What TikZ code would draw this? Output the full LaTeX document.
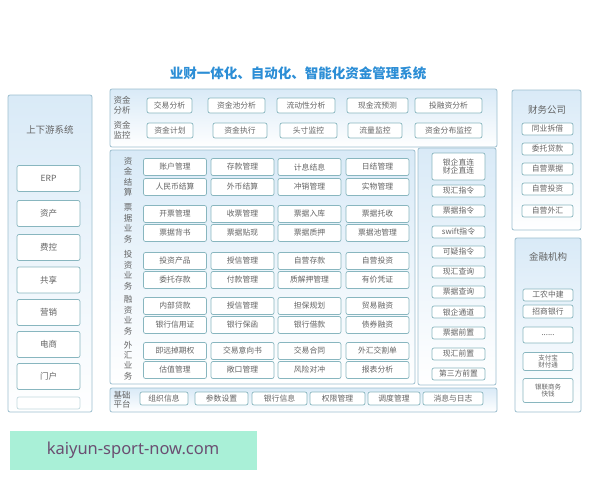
\documentclass[tikz,border=0pt]{standalone}
\usepackage{fontspec}
\setmainfont{Noto Sans CJK SC}
\newfontfamily\bannerfont{Noto Sans}
\definecolor{contc}{HTML}{9DBFCF}
\definecolor{boxc}{HTML}{88B6BF}
\definecolor{contt}{HTML}{D9EAF7}
\definecolor{txtc}{HTML}{646464}
\definecolor{titc}{HTML}{2C8ED6}
\definecolor{bannerc}{HTML}{A9F0D7}
\definecolor{bannert}{HTML}{6B4E71}
\begin{document}
\begin{tikzpicture}[x=1pt,y=-1pt,
  cont/.style={draw=contc, line width=0.8pt, rounded corners=2pt, top color=contt, bottom color=white, inner sep=0pt},
  ib/.style={draw=boxc, fill=white, rounded corners=2pt, line width=0.7pt, inner sep=0pt, font=\fontsize{7.8}{8.8}\selectfont, text=txtc, align=center},
  lbl/.style={font=\fontsize{8.5}{9.5}\selectfont, text=txtc, align=center, inner sep=0pt},
  vlbl/.style={font=\fontsize{8.5}{10.5}\selectfont, text=txtc, align=center, inner sep=0pt},
  ttl/.style={font=\fontsize{9.5}{11}\selectfont, text=txtc, inner sep=0pt}]
\useasboundingbox (0,0) rectangle (600,480);
\fill[white] (0,0) rectangle (600,480);

% title
\node[font=\fontsize{13.5}{15}\selectfont\bfseries, text=titc] (title) at (298,73) {业财一体化、自动化、智能化资金管理系统};

% containers
\node[cont, minimum width=387, minimum height=58] (topc) at (303.5,118) {};
\node[cont, minimum width=84, minimum height=317] (leftc) at (50,253.5) {};
\node[cont, minimum width=305, minimum height=234] (midc) at (262.5,267) {};
\node[cont, minimum width=78, minimum height=237] (instc) at (457,266.5) {};
\node[cont, minimum width=387, minimum height=24] (basec) at (303.5,400) {};
\node[cont, minimum width=69, minimum height=140] (fcc) at (546.5,160) {};
\node[cont, minimum width=66, minimum height=174] (fic) at (548,325) {};

% top block
\node[lbl] (l1) at (122,105) {资金\\分析};
\node[lbl] (l2) at (122,130) {资金\\监控};
\node[ib, minimum width=45, minimum height=15] (a1) at (169.5,105.5) {交易分析};
\node[ib, minimum width=57, minimum height=15] (a2) at (236.5,105.5) {资金池分析};
\node[ib, minimum width=58, minimum height=15] (a3) at (306,105.5) {流动性分析};
\node[ib, minimum width=61, minimum height=15] (a4) at (377.5,105.5) {现金流预测};
\node[ib, minimum width=67, minimum height=15] (a5) at (448.5,105.5) {投融资分析};
\node[ib, minimum width=46, minimum height=15] (b1) at (170,130.5) {资金计划};
\node[ib, minimum width=54, minimum height=15] (b2) at (240,130.5) {资金执行};
\node[ib, minimum width=57, minimum height=15] (b3) at (308.5,130.5) {头寸监控};
\node[ib, minimum width=54, minimum height=15] (b4) at (375,130.5) {流量监控};
\node[ib, minimum width=67, minimum height=15] (b5) at (448.5,130.5) {资金分布监控};

% left block
\node[ttl] (lt) at (50,130) {上下游系统};
\node[ib, minimum width=63, minimum height=26, font=\fontsize{8.5}{9.5}\selectfont] (u1) at (48.5,178.5) {ERP};
\node[ib, minimum width=63, minimum height=26, font=\fontsize{8.5}{9.5}\selectfont] (u2) at (48.5,213.5) {资产};
\node[ib, minimum width=63, minimum height=26, font=\fontsize{8.5}{9.5}\selectfont] (u3) at (48.5,247.5) {费控};
\node[ib, minimum width=63, minimum height=26, font=\fontsize{8.5}{9.5}\selectfont] (u4) at (48.5,280) {共享};
\node[ib, minimum width=63, minimum height=26, font=\fontsize{8.5}{9.5}\selectfont] (u5) at (48.5,312.5) {营销};
\node[ib, minimum width=63, minimum height=26, font=\fontsize{8.5}{9.5}\selectfont] (u6) at (48.5,344.5) {电商};
\node[ib, minimum width=63, minimum height=26, font=\fontsize{8.5}{9.5}\selectfont] (u7) at (48.5,376.5) {门户};
\node[ib, minimum width=63, minimum height=12, draw=boxc!50] (u8) at (48.5,403) {};

% middle block labels
\node[vlbl] (m1) at (128,177) {资\\金\\结\\算};
\node[vlbl] (m2) at (128,223.5) {票\\据\\业\\务};
\node[vlbl] (m3) at (128,270.5) {投\\资\\业\\务};
\node[vlbl] (m4) at (128,315.5) {融\\资\\业\\务};
\node[vlbl] (m5) at (128,360.5) {外\\汇\\业\\务};

\foreach \y/\ta/\tb/\tc/\td [count=\i] in {
  167/账户管理/存款管理/计息结息/日结管理,
  187/人民币结算/外币结算/冲销管理/实物管理,
  214/开票管理/收票管理/票据入库/票据托收,
  233/票据背书/票据贴现/票据质押/票据池管理,
  261/投资产品/授信管理/自营存款/自营投资,
  280/委托存款/付款管理/质解押管理/有价凭证,
  306/内部贷款/授信管理/担保规划/贸易融资,
  325/银行信用证/银行保函/银行借款/债券融资,
  351/即远掉期权/交易意向书/交易合同/外汇交割单,
  370/估值管理/敞口管理/风险对冲/报表分析}{
  \node[ib, minimum width=63, minimum height=17] (r\i c1) at (175,\y) {\ta};
  \node[ib, minimum width=63, minimum height=17] (r\i c2) at (242.5,\y) {\tb};
  \node[ib, minimum width=63, minimum height=17] (r\i c3) at (309.5,\y) {\tc};
  \node[ib, minimum width=63, minimum height=17] (r\i c4) at (377.5,\y) {\td};
}

% instruction block
\node[ib, minimum width=53, minimum height=27] (i0) at (458.5,166.5) {银企直连\\财企直连};
\foreach \y/\t [count=\i] in {191/现汇指令, 211/票据指令, 232/swift指令, 252/可疑指令, 272/现汇查询, 292/票据查询, 312/银企通道, 333/票据前置, 354/现汇前置, 374/第三方前置}{
  \node[ib, minimum width=53, minimum height=12] (i\i) at (458.5,\y) {\t};
}

% base platform
\node[lbl] (bl) at (122,400) {基础\\平台};
\node[ib, minimum width=48, minimum height=13] (p1) at (164,398.5) {组织信息};
\node[ib, minimum width=53, minimum height=13] (p2) at (221.5,398.5) {参数设置};
\node[ib, minimum width=55, minimum height=13] (p3) at (279.5,398.5) {银行信息};
\node[ib, minimum width=55, minimum height=13] (p4) at (337.5,398.5) {权限管理};
\node[ib, minimum width=52, minimum height=13] (p5) at (394,398.5) {调度管理};
\node[ib, minimum width=60, minimum height=13] (p6) at (453,398.5) {消息与日志};

% finance company
\node[ttl] (fct) at (547,110) {财务公司};
\foreach \y/\t [count=\i] in {129/同业拆借, 149/委托贷款, 169/自营票据, 189/自营投资, 211/自营外汇}{
  \node[ib, minimum width=51, minimum height=12] (f\i) at (547.5,\y) {\t};
}

% financial institutions
\node[ttl] (fit) at (548,257) {金融机构};
\node[ib, minimum width=50, minimum height=12] (k1) at (548,295) {工农中建};
\node[ib, minimum width=50, minimum height=13] (k2) at (548,311.5) {招商银行};
\node[ib, minimum width=50, minimum height=16] (k3) at (548,335) {......};
\node[ib, minimum width=50, minimum height=18, font=\fontsize{6.5}{7.5}\selectfont] (k4) at (548,361.5) {支付宝\\财付通};
\node[ib, minimum width=50, minimum height=24, font=\fontsize{6.5}{7.5}\selectfont] (k5) at (548,390.5) {银联商务\\快钱};

% banner
\fill[bannerc] (10,431) rectangle (257,470);
\node[font=\bannerfont\fontsize{16.5}{18}\selectfont, text=bannert] (banner) at (133,450) {kaiyun-sport-now.com};
\end{tikzpicture}
\end{document}
